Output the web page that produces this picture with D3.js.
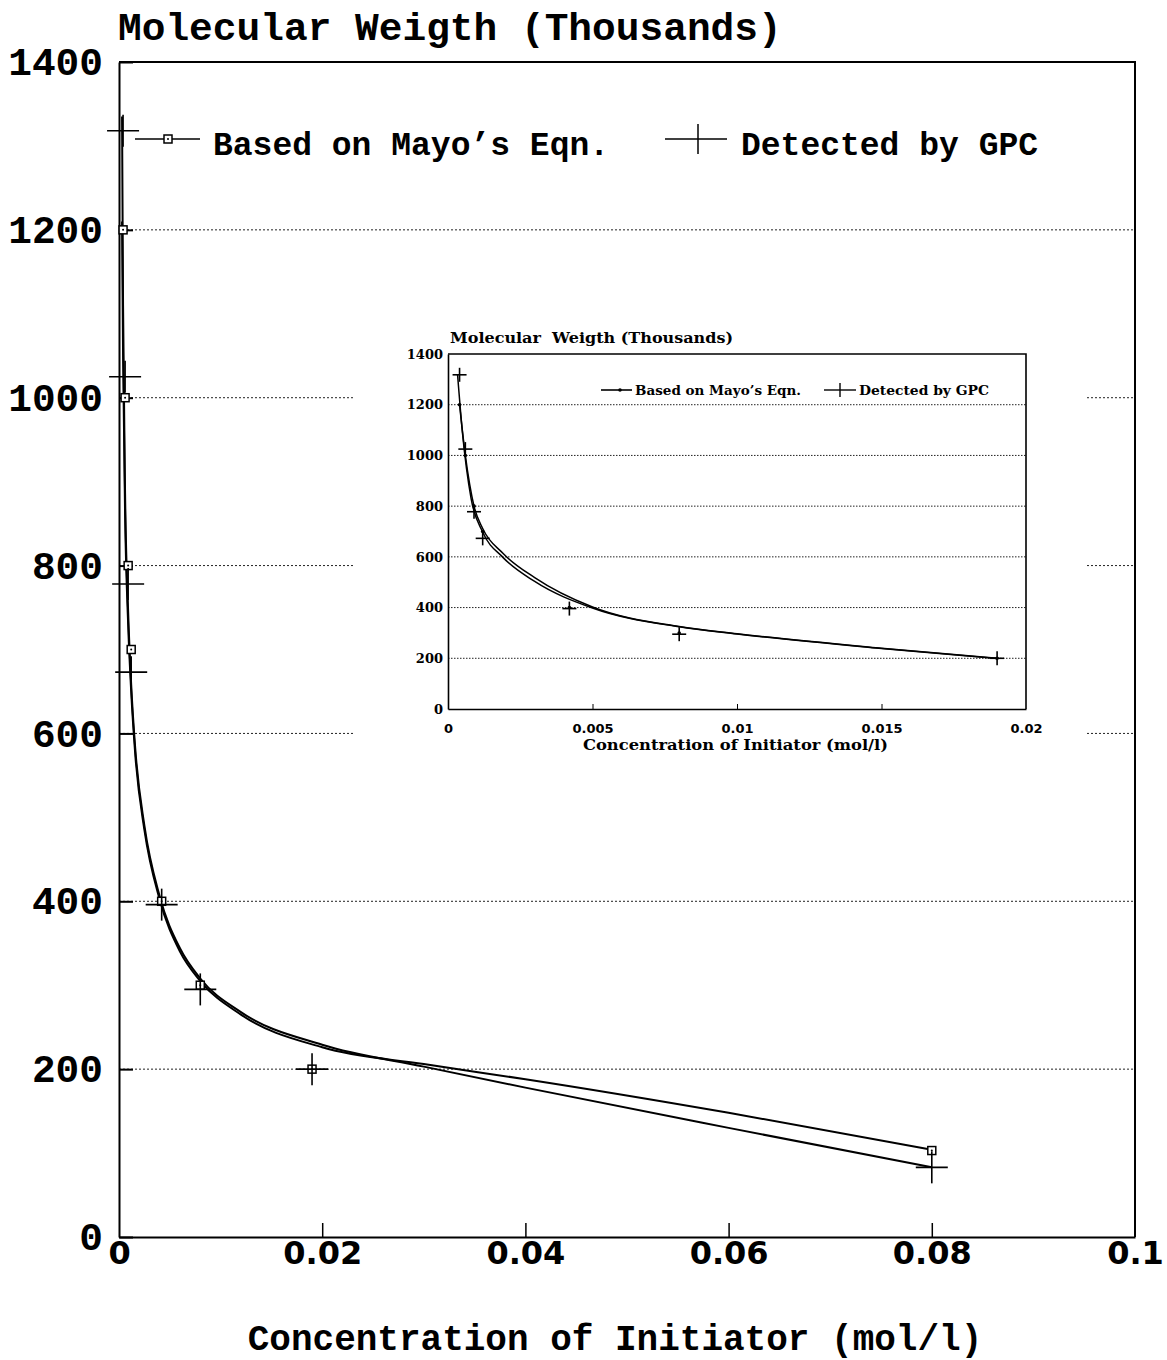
<!DOCTYPE html>
<html>
<head>
<meta charset="utf-8">
<script src="https://cdn.jsdelivr.net/npm/d3@7"></script>
<style>
  html, body { margin: 0; padding: 0; background: #fff; }
  svg { display: block; }
</style>
</head>
<body>
<svg id="chart" width="1167" height="1360"></svg>
<script>
// Measured points: initiator concentration (mol/l) vs molecular weight (thousands)
const concentration = [0.0004, 0.0006, 0.0009, 0.0012, 0.0042, 0.008, 0.019, 0.08];
const mayoMW = [1200, 1000, 800, 700, 400, 300, 200, 103];
const gpcMW = [1318, 1025, 778, 673, 396, 295, 200, 83];

// Smoothed trend curves over the full range
const fitConc = [0.0003, 0.0004, 0.0006, 0.0009, 0.0012, 0.0016, 0.0025, 0.004, 0.006, 0.008, 0.012, 0.02, 0.03, 0.04, 0.06, 0.08];
const mayoFit = [1210, 1050, 860, 730, 650, 575, 485, 402, 340, 305, 265, 226, 206, 188, 148, 104];
const gpcFit = [1335, 1110, 885, 745, 658, 582, 490, 406, 344, 308, 268, 229, 203, 178, 130, 83];

// Smoothed trend curves for the low-concentration detail panel
const insetMayoConc = [0.0004, 0.0006, 0.0009, 0.0012, 0.0019, 0.003, 0.005, 0.008, 0.01, 0.015, 0.019];
const insetMayoFit = [1200, 1000, 800, 712, 614, 518, 402, 325, 297, 240, 200];
const insetGpcConc = [0.00033, 0.0005, 0.0008, 0.0012, 0.0019, 0.003, 0.005, 0.008, 0.01, 0.015, 0.019];
const insetGpcFit = [1320, 1090, 830, 698, 598, 503, 398, 324, 296, 239, 199];

// Axis ticks
const yTicks = [0, 200, 400, 600, 800, 1000, 1200, 1400];
const xTicks = [0, 0.02, 0.04, 0.06, 0.08, 0.1];
const xTickLabels = ["0", "0.02", "0.04", "0.06", "0.08", "0.1"];
const insetXTicks = [0, 0.005, 0.01, 0.015, 0.02];
const insetXTickLabels = ["0", "0.005", "0.01", "0.015", "0.02"];

const titleText = "Molecular Weigth (Thousands)";
const insetTitleText = "Molecular\u00a0\u00a0Weigth (Thousands)";
const xTitleText = "Concentration of Initiator (mol/l)";
const legendMayo = "Based on Mayo\u2019s Eqn.";
const legendGpc = "Detected by GPC";

const MONO = "'Liberation Mono', 'Courier New', monospace";
const SANSB = "'DejaVu Sans', sans-serif";
const SERIFB = "'DejaVu Serif', serif";

const svg = d3.select("#chart");

// ---------- main panel ----------
const x = d3.scaleLinear().domain([0, 0.1]).range([119, 1135]);
const y = d3.scaleLinear().domain([0, 1400]).range([1237, 62]);

// dotted gridlines
svg.append("g").selectAll("line")
  .data(yTicks.filter(v => v > 0 && v < 1400))
  .join("line")
  .attr("x1", x(0)).attr("x2", x(0.1))
  .attr("y1", d => y(d)).attr("y2", d => y(d))
  .attr("stroke", "#222").attr("stroke-width", 1)
  .attr("stroke-dasharray", "2,2");

// frame top / right
svg.append("path")
  .attr("d", `M${x(0)},${y(1400)}H${x(0.1)}V${y(0)}`)
  .attr("fill", "none").attr("stroke", "#000").attr("stroke-width", 2);

const yAxis = svg.append("g")
  .attr("transform", `translate(${x(0)},0)`)
  .call(d3.axisLeft(y).tickValues(yTicks).tickSizeInner(-14).tickSizeOuter(0).tickPadding(16).tickFormat(d3.format("d")));
yAxis.select(".domain").attr("stroke-width", 2);
yAxis.selectAll(".tick line").attr("stroke-width", 2);
yAxis.selectAll("text")
  .attr("font-family", MONO).attr("font-weight", "bold").attr("font-size", 39.5)
  .attr("fill", "#000");

const xAxis = svg.append("g")
  .attr("transform", `translate(0,${y(0)})`)
  .call(d3.axisBottom(x).tickValues(xTicks).tickSizeInner(-14).tickSizeOuter(0).tickPadding(4)
    .tickFormat((d, i) => xTickLabels[i]));
xAxis.select(".domain").attr("stroke-width", 2);
xAxis.selectAll(".tick line").attr("stroke-width", 1.5);
xAxis.selectAll(".tick").filter(d => d === 0 || d === 0.1).select("line").remove();
xAxis.selectAll("text")
  .attr("font-family", SANSB).attr("font-weight", "bold").attr("font-size", 32)
  .attr("fill", "#000");

svg.append("text")
  .attr("x", 118).attr("y", 40)
  .attr("font-family", MONO).attr("font-weight", "bold").attr("font-size", 39.5)
  .text(titleText);

svg.append("text")
  .attr("x", 615).attr("y", 1350).attr("text-anchor", "middle")
  .attr("font-family", MONO).attr("font-weight", "bold").attr("font-size", 36)
  .text(xTitleText);

// trend curves
const mainLine = d3.line().x(d => x(d[0])).y(d => y(d[1])).curve(d3.curveMonotoneX);
svg.append("path")
  .attr("d", mainLine(d3.zip(fitConc, mayoFit)))
  .attr("fill", "none").attr("stroke", "#000").attr("stroke-width", 2);
svg.append("path")
  .attr("d", mainLine(d3.zip(fitConc, gpcFit)))
  .attr("fill", "none").attr("stroke", "#000").attr("stroke-width", 2);

// Mayo markers: small squares with a dot
function square(sel) {
  sel.append("rect").attr("x", -4).attr("y", -4).attr("width", 8).attr("height", 8)
    .attr("fill", "#fff").attr("stroke", "#000").attr("stroke-width", 1.5);
  sel.append("circle").attr("r", 1).attr("fill", "#000");
}
svg.append("g").selectAll("g")
  .data(d3.zip(concentration, mayoMW)).join("g")
  .attr("transform", d => `translate(${x(d[0])},${y(d[1])})`)
  .call(square);

// GPC markers: large crosses
function cross(sel, armX, armY, w) {
  sel.append("line").attr("x1", -armX).attr("x2", armX).attr("y1", 0).attr("y2", 0)
    .attr("stroke", "#000").attr("stroke-width", w);
  sel.append("line").attr("x1", 0).attr("x2", 0).attr("y1", -armY).attr("y2", armY)
    .attr("stroke", "#000").attr("stroke-width", w);
}
svg.append("g").selectAll("g")
  .data(d3.zip(concentration, gpcMW)).join("g")
  .attr("transform", d => `translate(${x(d[0])},${y(d[1])})`)
  .call(cross, 16, 16, 1.6);

// legend
const lg = svg.append("g");
lg.append("line").attr("x1", 135).attr("x2", 200).attr("y1", 139).attr("y2", 139)
  .attr("stroke", "#000").attr("stroke-width", 1.5);
lg.append("g").attr("transform", "translate(168,139)").call(square);
lg.append("text").attr("x", 213).attr("y", 155)
  .attr("font-family", MONO).attr("font-weight", "bold").attr("font-size", 33)
  .text(legendMayo);
lg.append("line").attr("x1", 665).attr("x2", 727).attr("y1", 139).attr("y2", 139)
  .attr("stroke", "#000").attr("stroke-width", 1.5);
lg.append("line").attr("x1", 698).attr("x2", 698).attr("y1", 124).attr("y2", 154)
  .attr("stroke", "#000").attr("stroke-width", 1.5);
lg.append("text").attr("x", 741).attr("y", 155)
  .attr("font-family", MONO).attr("font-weight", "bold").attr("font-size", 33)
  .text(legendGpc);

// ---------- inset panel ----------
svg.append("rect").attr("x", 355).attr("y", 322).attr("width", 730).attr("height", 446)
  .attr("fill", "#fff");

const xi = d3.scaleLinear().domain([0, 0.02]).range([448, 1026]);
const yi = d3.scaleLinear().domain([0, 1400]).range([709, 354]);

svg.append("g").selectAll("line")
  .data(yTicks.filter(v => v > 0 && v < 1400))
  .join("line")
  .attr("x1", xi(0)).attr("x2", xi(0.02))
  .attr("y1", d => yi(d)).attr("y2", d => yi(d))
  .attr("stroke", "#222").attr("stroke-width", 1)
  .attr("stroke-dasharray", "1.5,1.5");

svg.append("path")
  .attr("d", `M${xi(0)},${yi(1400)}H${xi(0.02)}V${yi(0)}`)
  .attr("fill", "none").attr("stroke", "#000").attr("stroke-width", 1.6);

const yiAxis = svg.append("g")
  .attr("transform", `translate(${xi(0)},0)`)
  .call(d3.axisLeft(yi).tickValues(yTicks).tickSize(0).tickPadding(5).tickFormat(d3.format("d")));
yiAxis.select(".domain").attr("stroke-width", 1.6);
yiAxis.selectAll("text")
  .attr("font-family", SERIFB).attr("font-weight", "bold").attr("font-size", 13)
  .attr("fill", "#000");

const xiAxis = svg.append("g")
  .attr("transform", `translate(0,${yi(0)})`)
  .call(d3.axisBottom(xi).tickValues(insetXTicks).tickSizeInner(-5).tickSizeOuter(0).tickPadding(15)
    .tickFormat((d, i) => insetXTickLabels[i]));
xiAxis.select(".domain").attr("stroke-width", 1.6);
xiAxis.selectAll(".tick").filter(d => d === 0 || d === 0.02).select("line").remove();
xiAxis.selectAll("text")
  .attr("font-family", SANSB).attr("font-weight", "bold").attr("font-size", 13)
  .attr("fill", "#000");

svg.append("text")
  .attr("x", 450).attr("y", 343)
  .attr("font-family", SERIFB).attr("font-weight", "bold").attr("font-size", 14)
  .attr("textLength", 283).attr("lengthAdjust", "spacingAndGlyphs")
  .text(insetTitleText);

svg.append("text")
  .attr("x", 583).attr("y", 750)
  .attr("font-family", SERIFB).attr("font-weight", "bold").attr("font-size", 14)
  .attr("textLength", 305).attr("lengthAdjust", "spacingAndGlyphs")
  .text(xTitleText);

const insetLine = d3.line().x(d => xi(d[0])).y(d => yi(d[1])).curve(d3.curveMonotoneX);
svg.append("path")
  .attr("d", insetLine(d3.zip(insetMayoConc, insetMayoFit)))
  .attr("fill", "none").attr("stroke", "#000").attr("stroke-width", 1.5);
svg.append("path")
  .attr("d", insetLine(d3.zip(insetGpcConc, insetGpcFit)))
  .attr("fill", "none").attr("stroke", "#000").attr("stroke-width", 1.5);

const insetPts = d3.zip(concentration, mayoMW, gpcMW).filter(d => d[0] <= 0.02);
svg.append("g").selectAll("circle")
  .data(insetPts).join("circle")
  .attr("cx", d => xi(d[0])).attr("cy", d => yi(d[1])).attr("r", 1.8)
  .attr("fill", "#000");
svg.append("g").selectAll("g")
  .data(insetPts).join("g")
  .attr("transform", d => `translate(${xi(d[0])},${yi(d[2])})`)
  .call(cross, 7, 7, 1.6);

// inset legend
const il = svg.append("g");
il.append("line").attr("x1", 601).attr("x2", 632).attr("y1", 390).attr("y2", 390)
  .attr("stroke", "#000").attr("stroke-width", 1.6);
il.append("circle").attr("cx", 620).attr("cy", 390).attr("r", 1.8).attr("fill", "#000");
il.append("text").attr("x", 635).attr("y", 395)
  .attr("font-family", SERIFB).attr("font-weight", "bold").attr("font-size", 13)
  .attr("textLength", 166).attr("lengthAdjust", "spacingAndGlyphs")
  .text(legendMayo);
il.append("line").attr("x1", 824).attr("x2", 856).attr("y1", 390).attr("y2", 390)
  .attr("stroke", "#000").attr("stroke-width", 1.4);
il.append("line").attr("x1", 840).attr("x2", 840).attr("y1", 383).attr("y2", 397)
  .attr("stroke", "#000").attr("stroke-width", 1.4);
il.append("text").attr("x", 859).attr("y", 395)
  .attr("font-family", SERIFB).attr("font-weight", "bold").attr("font-size", 13)
  .attr("textLength", 130).attr("lengthAdjust", "spacingAndGlyphs")
  .text(legendGpc);
</script>
</body>
</html>
